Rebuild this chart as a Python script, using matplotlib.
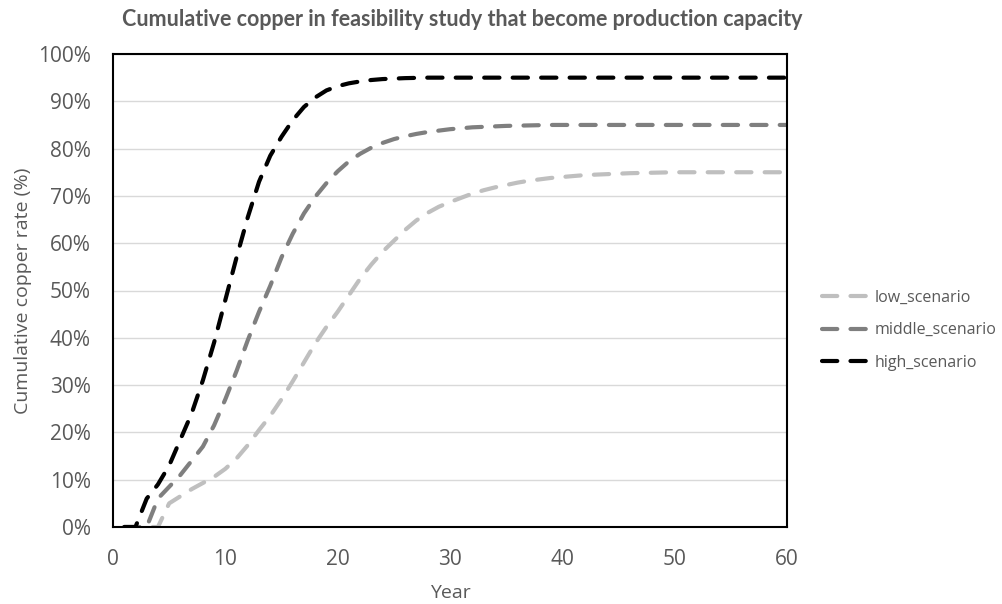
import matplotlib
matplotlib.use("Agg")
import matplotlib.pyplot as plt
from matplotlib.ticker import PercentFormatter

# 年ごとの累積銅割合 (%)
years = list(range(1, 61))

low_scenario = [0, 0, 0, 0, 5, 6.5, 8, 9.3, 10.6, 12.3,
                14.5, 17.3, 20.5, 23.5, 27, 30.8, 34.8, 38.8, 42.3, 45.5,
                49, 52.5, 55.5, 58.2, 60.5, 62.8, 64.8, 66.4, 67.7, 68.7,
                69.6, 70.5, 71.2, 71.8, 72.3, 72.8, 73.2, 73.5, 73.8, 74,
                74.2, 74.4, 74.5, 74.6, 74.7, 74.8, 74.85, 74.9, 74.95, 75,
                75, 75, 75, 75, 75, 75, 75, 75, 75, 75]

middle_scenario = [0, 0, 0, 6, 8.5, 11, 14, 17, 21.5, 27,
                   33, 39.5, 45.5, 51, 57, 62, 66.3, 69.8, 72.7, 75.2,
                   77.3, 78.9, 80.2, 81.2, 82, 82.6, 83.1, 83.5, 83.8, 84.1,
                   84.3, 84.5, 84.6, 84.7, 84.8, 84.85, 84.9, 84.95, 85, 85,
                   85, 85, 85, 85, 85, 85, 85, 85, 85, 85,
                   85, 85, 85, 85, 85, 85, 85, 85, 85, 85]

high_scenario = [0, 0, 6, 9, 13, 18.5, 24, 31, 39, 48,
                 57, 65.5, 73, 78.5, 82.5, 86, 88.8, 90.8, 92.3, 93.2,
                 93.8, 94.2, 94.5, 94.7, 94.8, 94.9, 94.95, 95, 95, 95,
                 95, 95, 95, 95, 95, 95, 95, 95, 95, 95,
                 95, 95, 95, 95, 95, 95, 95, 95, 95, 95,
                 95, 95, 95, 95, 95, 95, 95, 95, 95, 95]

TEXT_COLOR = "#595959"
plt.rcParams["font.family"] = ["Open Sans", "DejaVu Sans"]
plt.rcParams["lines.scale_dashes"] = False

fig = plt.figure(figsize=(10.03, 6.04), dpi=100)
ax = fig.add_axes([113 / 1003, 77 / 604, 674 / 1003, 473 / 604])

series = [
    ("low_scenario", low_scenario, "#bfbfbf"),
    ("middle_scenario", middle_scenario, "#7f7f7f"),
    ("high_scenario", high_scenario, "#000000"),
]
for name, values, color in series:
    ax.plot(years, values, color=color, linewidth=3, dashes=(11, 9.5),
            dash_capstyle="round", solid_capstyle="round", label=name)

ax.set_xlim(0, 60)
ax.set_ylim(0, 100)
ax.set_xticks(range(0, 61, 10))
ax.set_yticks(range(0, 101, 10))
ax.yaxis.set_major_formatter(PercentFormatter(decimals=0))
ax.grid(axis="y", color="#d9d9d9", linewidth=1)
ax.set_axisbelow(True)
ax.tick_params(length=0, labelsize=15, labelcolor=TEXT_COLOR, pad=16)
for spine in ax.spines.values():
    spine.set_color("black")
    spine.set_linewidth(1.5)

ax.set_xlabel("Year", fontsize=14, color=TEXT_COLOR, labelpad=10)
ax.set_ylabel("Cumulative copper rate (%)", fontsize=14, color=TEXT_COLOR, labelpad=4)
fig.text(0.461, 0.968, "Cumulative copper in feasibility study that become production capacity",
         ha="center", va="center", fontsize=15.5, fontweight="bold", color=TEXT_COLOR,
         family=["Lato", "DejaVu Sans"])

leg = ax.legend(loc="center left", bbox_to_anchor=(1.031, 0.416), frameon=False,
                fontsize=11.5, labelcolor=TEXT_COLOR, handlelength=2.9,
                labelspacing=1.05, handletextpad=0.35)

fig.savefig("out.png", dpi=100, facecolor="white")
